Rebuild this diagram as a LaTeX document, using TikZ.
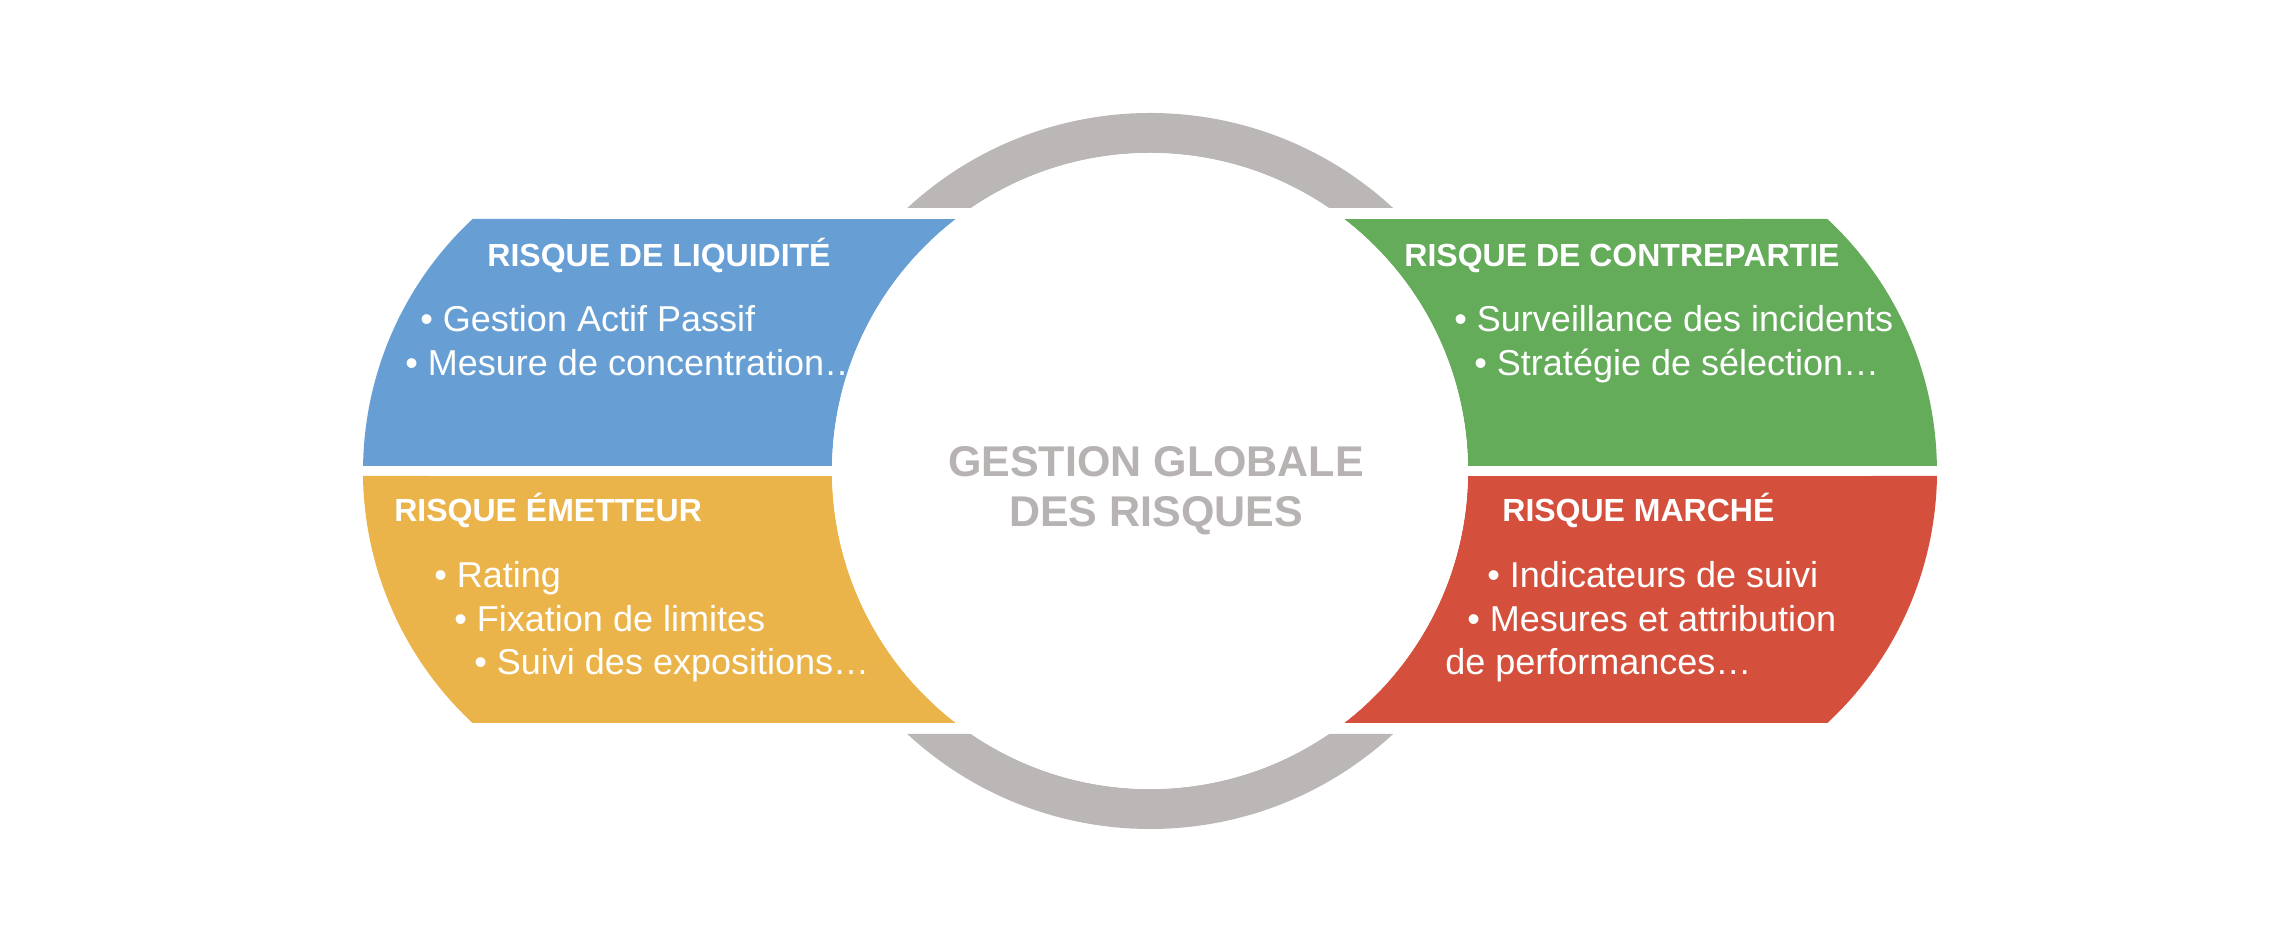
\documentclass[tikz,border=0pt]{standalone}
\usepackage{fontspec}
\setmainfont{Liberation Sans}
\usepackage{tikz}
\usetikzlibrary{positioning}

\definecolor{liqblue}{HTML}{679FD4}
\definecolor{emetorange}{HTML}{EBB44A}
\definecolor{contregreen}{HTML}{64AB5A}
\definecolor{marchered}{HTML}{D4503C}
\definecolor{ringgray}{HTML}{BBB7B6}
\definecolor{titlegray}{HTML}{B6B3B2}

\begin{document}
\begin{tikzpicture}[x=0.5pt,y=0.5pt,
    head/.style={anchor=base,inner sep=0pt,text=white,font=\fontsize{16}{19}\selectfont\bfseries},
    item/.style={anchor=base west,inner sep=0pt,text=white,font=\fontsize{18}{21}\selectfont},
    titre/.style={anchor=base,inner sep=0pt,text=titlegray,font=\fontsize{21.5}{25}\selectfont\bfseries}]
    \useasboundingbox (-1150,-459) rectangle (1138,471);

    \fill[ringgray] (243.1,263) arc[start angle=47.27,end angle=132.73,radius=358] -- (-178.8,263) arc[start angle=124.2,end angle=55.8,radius=318] -- cycle;
    \fill[ringgray] (243.1,-263) arc[start angle=-47.27,end angle=-132.73,radius=358] -- (-178.8,-263) arc[start angle=-124.2,end angle=-55.8,radius=318] -- cycle;

    \fill[liqblue] (-677.4,252) arc[start angle=133,end angle=179.17,radius=344.5] -- (-318,5) arc[start angle=179.1,end angle=127.6,radius=318] -- cycle;
    \fill[emetorange] (-787,-5) arc[start angle=180.83,end angle=227,radius=344.5] -- (-194,-252) arc[start angle=232.4,end angle=180.9,radius=318] -- cycle;
    \fill[contregreen] (677.4,252) arc[start angle=47,end angle=0.83,radius=344.5] -- (318,5) arc[start angle=0.9,end angle=52.4,radius=318] -- cycle;
    \fill[marchered] (787,-5) arc[start angle=-0.83,end angle=-47,radius=344.5] -- (194,-252) arc[start angle=-52.4,end angle=-0.9,radius=318] -- cycle;

    \node[head] (liq) at (-491,204) {RISQUE DE LIQUIDITÉ};
    \node[item] (liq1) at (-730,139) {• Gestion Actif Passif};
    \node[item] (liq2) at (-745,95) {• Mesure de concentration…};

    \node[head] (contre) at (472,204) {RISQUE DE CONTREPARTIE};
    \node[item] (contre1) at (304,139) {• Surveillance des incidents};
    \node[item] (contre2) at (324,95) {• Stratégie de sélection…};

    \node[head,anchor=base west] (emet) at (-756,-51) {RISQUE ÉMETTEUR};
    \node[item] (emet1) at (-716,-117) {• Rating};
    \node[item] (emet2) at (-696,-161) {• Fixation de limites};
    \node[item] (emet3) at (-676,-204) {• Suivi des expositions…};

    \node[head,anchor=base west] (marche) at (352,-51) {RISQUE MARCHÉ};
    \node[item] (marche1) at (337,-117) {• Indicateurs de suivi};
    \node[item] (marche2) at (317,-161) {• Mesures et attribution};
    \node[item] (marche3) at (295,-204) {de performances…};

    \node[circle,fill=white,inner sep=0pt,minimum size=318pt] (centre) at (0,0) {};
    \node[titre] (titre1) at (6,-6) {GESTION GLOBALE};
    \node[titre] (titre2) at (6,-56) {DES RISQUES};
\end{tikzpicture}
\end{document}
